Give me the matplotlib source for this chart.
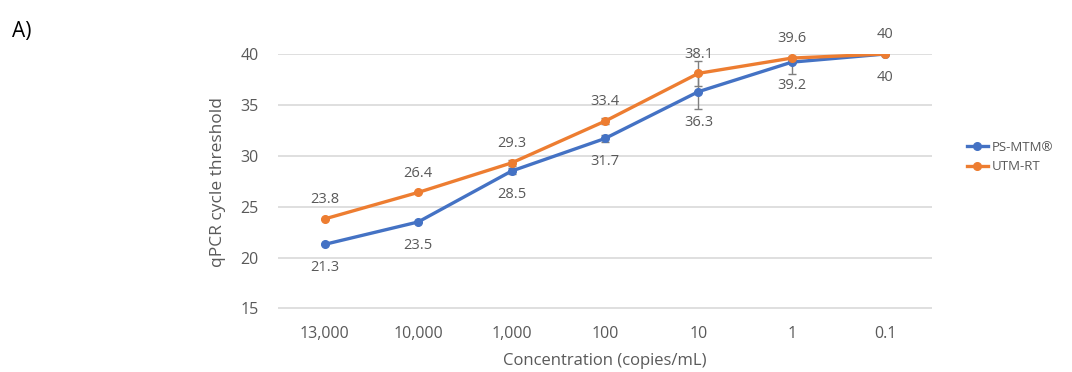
import matplotlib
matplotlib.use("Agg")
import matplotlib.pyplot as plt
import numpy as np

categories = ["13,000", "10,000", "1,000", "100", "10", "1", "0.1"]
ps_mtm = [21.3, 23.5, 28.5, 31.7, 36.3, 39.2, 40]
utm_rt = [23.8, 26.4, 29.3, 33.4, 38.1, 39.6, 40]
ps_err = [0, 0, 0.3, 0.3, 1.7, 1.2, 0]
utm_err = [0, 0, 0.3, 0.3, 1.2, 0.2, 0]

plt.rcParams['font.family'] = ['Open Sans', 'DejaVu Sans']
gray = '#595959'
blue = '#4472C4'
orange = '#ED7D31'

fig = plt.figure(figsize=(10.72, 3.72), dpi=100)
ax = fig.add_axes([278/1072, 1-309/372, (932-278)/1072, (309-54)/372])
x = np.arange(len(categories))

ax.errorbar(x, ps_mtm, yerr=ps_err, fmt='none', ecolor='#7f7f7f', elinewidth=1, capsize=3, zorder=2)
ax.errorbar(x, utm_rt, yerr=utm_err, fmt='none', ecolor='#7f7f7f', elinewidth=1, capsize=3, zorder=2)
ax.plot(x, ps_mtm, color=blue, lw=2.4, marker='o', ms=5.5, label='PS-MTM®', zorder=3)
ax.plot(x, utm_rt, color=orange, lw=2.4, marker='o', ms=5.5, label='UTM-RT', zorder=4)

for i, (xi, v) in enumerate(zip(x, ps_mtm)):
    off = -17 if i == 4 else -11.5
    ax.annotate(f"{v:g}", (xi, v), xytext=(0, off), textcoords='offset points',
                ha='center', va='top', fontsize=10.5, color=gray)
for xi, v in zip(x, utm_rt):
    ax.annotate(f"{v:g}", (xi, v), xytext=(0, 8.5), textcoords='offset points',
                ha='center', va='bottom', fontsize=10.5, color=gray)

ax.set_xlim(-0.5, len(x) - 0.5)
ax.set_ylim(14.95, 40)
ax.set_yticks([15, 20, 25, 30, 35, 40])
ax.set_xticks(x)
ax.set_xticklabels(categories)
ax.grid(axis='y', color='#d9d9d9', lw=1.2)
ax.set_axisbelow(True)
for s in ax.spines.values():
    s.set_visible(False)
ax.tick_params(length=0, labelsize=11.5, colors=gray, pad=12)
ax.tick_params(axis='y', pad=14)
ax.set_xlabel("Concentration (copies/mL)", fontsize=12, color=gray, labelpad=8)
ax.set_ylabel("qPCR cycle threshold", fontsize=12.5, color=gray, labelpad=10)

leg = fig.legend(loc='center left', bbox_to_anchor=(955/1072, 1-157/372), frameon=False,
                 fontsize=9.5, handlelength=1.6, handletextpad=0.3, labelspacing=0.5)
for t in leg.get_texts():
    t.set_color(gray)

fig.text(12/1072, 1-32/372, "A)", fontsize=15, color='black', va='center')

fig.savefig("out.png", dpi=100)
